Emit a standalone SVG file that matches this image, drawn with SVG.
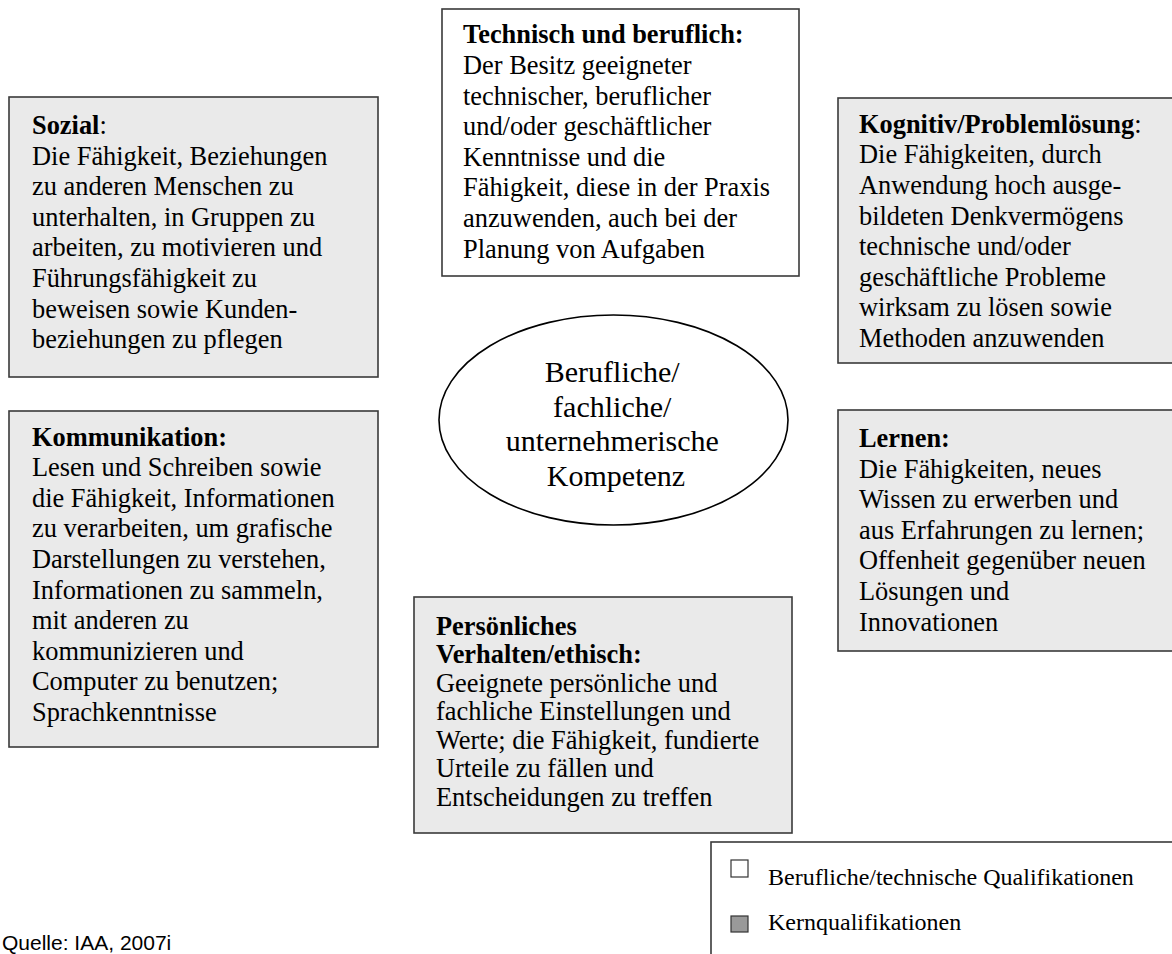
<svg xmlns="http://www.w3.org/2000/svg" width="1172" height="954" viewBox="0 0 1172 954">
<style>
  .box { stroke: #3a3a3a; stroke-width: 1.6; }
  .gray { fill: #eaeaea; }
  .white { fill: #ffffff; }
  .t { font-family: "Liberation Serif", "Times New Roman", serif; font-size: 26.4px; fill: #000; }
  .b { font-weight: bold; }
  .c { font-family: "Liberation Serif", "Times New Roman", serif; font-size: 30px; fill: #000; text-anchor: middle; }
  .lg { font-family: "Liberation Serif", "Times New Roman", serif; font-size: 24px; fill: #000; }
  .src { font-family: "Liberation Sans", Arial, sans-serif; font-size: 21px; fill: #000; }
</style>
<rect width="1172" height="954" fill="#ffffff"/>
<g id="connectors"></g>

<g id="technisch">
  <rect class="box white" x="442" y="9" width="357" height="267"/>
  <text class="t" x="463">
    <tspan class="b" x="463" y="43.3">Technisch und beruflich:</tspan>
    <tspan x="463" y="73.9">Der Besitz geeigneter</tspan>
    <tspan x="463" y="104.5">technischer, beruflicher</tspan>
    <tspan x="463" y="135.1">und/oder geschäftlicher</tspan>
    <tspan x="463" y="165.7">Kenntnisse und die</tspan>
    <tspan x="463" y="196.3">Fähigkeit, diese in der Praxis</tspan>
    <tspan x="463" y="226.9">anzuwenden, auch bei der</tspan>
    <tspan x="463" y="257.5">Planung von Aufgaben</tspan>
  </text>
</g>

<g id="sozial">
  <rect class="box gray" x="9" y="97" width="369" height="280"/>
  <text class="t">
    <tspan x="32" y="134"><tspan class="b">Sozial</tspan>:</tspan>
    <tspan x="32" y="164.6">Die Fähigkeit, Beziehungen</tspan>
    <tspan x="32" y="195.2">zu anderen Menschen zu</tspan>
    <tspan x="32" y="225.8">unterhalten, in Gruppen zu</tspan>
    <tspan x="32" y="256.4">arbeiten, zu motivieren und</tspan>
    <tspan x="32" y="287">Führungsfähigkeit zu</tspan>
    <tspan x="32" y="317.6">beweisen sowie Kunden-</tspan>
    <tspan x="32" y="348.2">beziehungen zu pflegen</tspan>
  </text>
</g>

<g id="kognitiv">
  <rect class="box gray" x="838" y="98" width="345" height="265"/>
  <text class="t">
    <tspan x="859" y="132.7"><tspan class="b">Kognitiv/Problemlösung</tspan>:</tspan>
    <tspan x="859" y="163.3">Die Fähigkeiten, durch</tspan>
    <tspan x="859" y="193.9">Anwendung hoch ausge-</tspan>
    <tspan x="859" y="224.5">bildeten Denkvermögens</tspan>
    <tspan x="859" y="255.1">technische und/oder</tspan>
    <tspan x="859" y="285.7">geschäftliche Probleme</tspan>
    <tspan x="859" y="316.3">wirksam zu lösen sowie</tspan>
    <tspan x="859" y="346.9">Methoden anzuwenden</tspan>
  </text>
</g>

<g id="zentrum">
  <ellipse cx="613.5" cy="420" rx="174.5" ry="105" fill="#ffffff" stroke="#000" stroke-width="1.6"/>
  <text class="c">
    <tspan x="616" y="382">Berufliche/</tspan>
    <tspan x="616" y="416.5">fachliche/</tspan>
    <tspan x="616" y="451">unternehmerische</tspan>
    <tspan x="616" y="485.5">Kompetenz</tspan>
  </text>
</g>

<g id="kommunikation">
  <rect class="box gray" x="9" y="411" width="369" height="336"/>
  <text class="t">
    <tspan class="b" x="32" y="445.5">Kommunikation:</tspan>
    <tspan x="32" y="476.1">Lesen und Schreiben sowie</tspan>
    <tspan x="32" y="506.7">die Fähigkeit, Informationen</tspan>
    <tspan x="32" y="537.3">zu verarbeiten, um grafische</tspan>
    <tspan x="32" y="567.9">Darstellungen zu verstehen,</tspan>
    <tspan x="32" y="598.5">Informationen zu sammeln,</tspan>
    <tspan x="32" y="629.1">mit anderen zu</tspan>
    <tspan x="32" y="659.7">kommunizieren und</tspan>
    <tspan x="32" y="690.3">Computer zu benutzen;</tspan>
    <tspan x="32" y="720.9">Sprachkenntnisse</tspan>
  </text>
</g>

<g id="lernen">
  <rect class="box gray" x="838" y="410" width="345" height="241"/>
  <text class="t">
    <tspan class="b" x="859" y="447">Lernen:</tspan>
    <tspan x="859" y="477.6">Die Fähigkeiten, neues</tspan>
    <tspan x="859" y="508.2">Wissen zu erwerben und</tspan>
    <tspan x="859" y="538.8">aus Erfahrungen zu lernen;</tspan>
    <tspan x="859" y="569.4">Offenheit gegenüber neuen</tspan>
    <tspan x="859" y="600">Lösungen und</tspan>
    <tspan x="859" y="630.6">Innovationen</tspan>
  </text>
</g>

<g id="persoenlich">
  <rect class="box gray" x="414" y="597" width="378" height="236"/>
  <text class="t">
    <tspan class="b" x="436" y="634.5">Persönliches</tspan>
    <tspan class="b" x="436" y="663">Verhalten/ethisch:</tspan>
    <tspan x="436" y="691.5">Geeignete persönliche und</tspan>
    <tspan x="436" y="720">fachliche Einstellungen und</tspan>
    <tspan x="436" y="748.5">Werte; die Fähigkeit, fundierte</tspan>
    <tspan x="436" y="777">Urteile zu fällen und</tspan>
    <tspan x="436" y="805.5">Entscheidungen zu treffen</tspan>
  </text>
</g>

<g id="legende">
  <rect class="box white" x="711" y="842" width="470" height="130"/>
  <rect x="731" y="860" width="17" height="17" fill="#ffffff" stroke="#333" stroke-width="1.2"/>
  <text class="lg" x="768" y="885">Berufliche/technische Qualifikationen</text>
  <rect x="731" y="916" width="17" height="16" fill="#999999" stroke="#333" stroke-width="1.2"/>
  <text class="lg" x="768" y="930">Kernqualifikationen</text>
</g>

<g id="quelle">
  <text class="src" x="2" y="950">Quelle: IAA, 2007i</text>
</g>
</svg>
